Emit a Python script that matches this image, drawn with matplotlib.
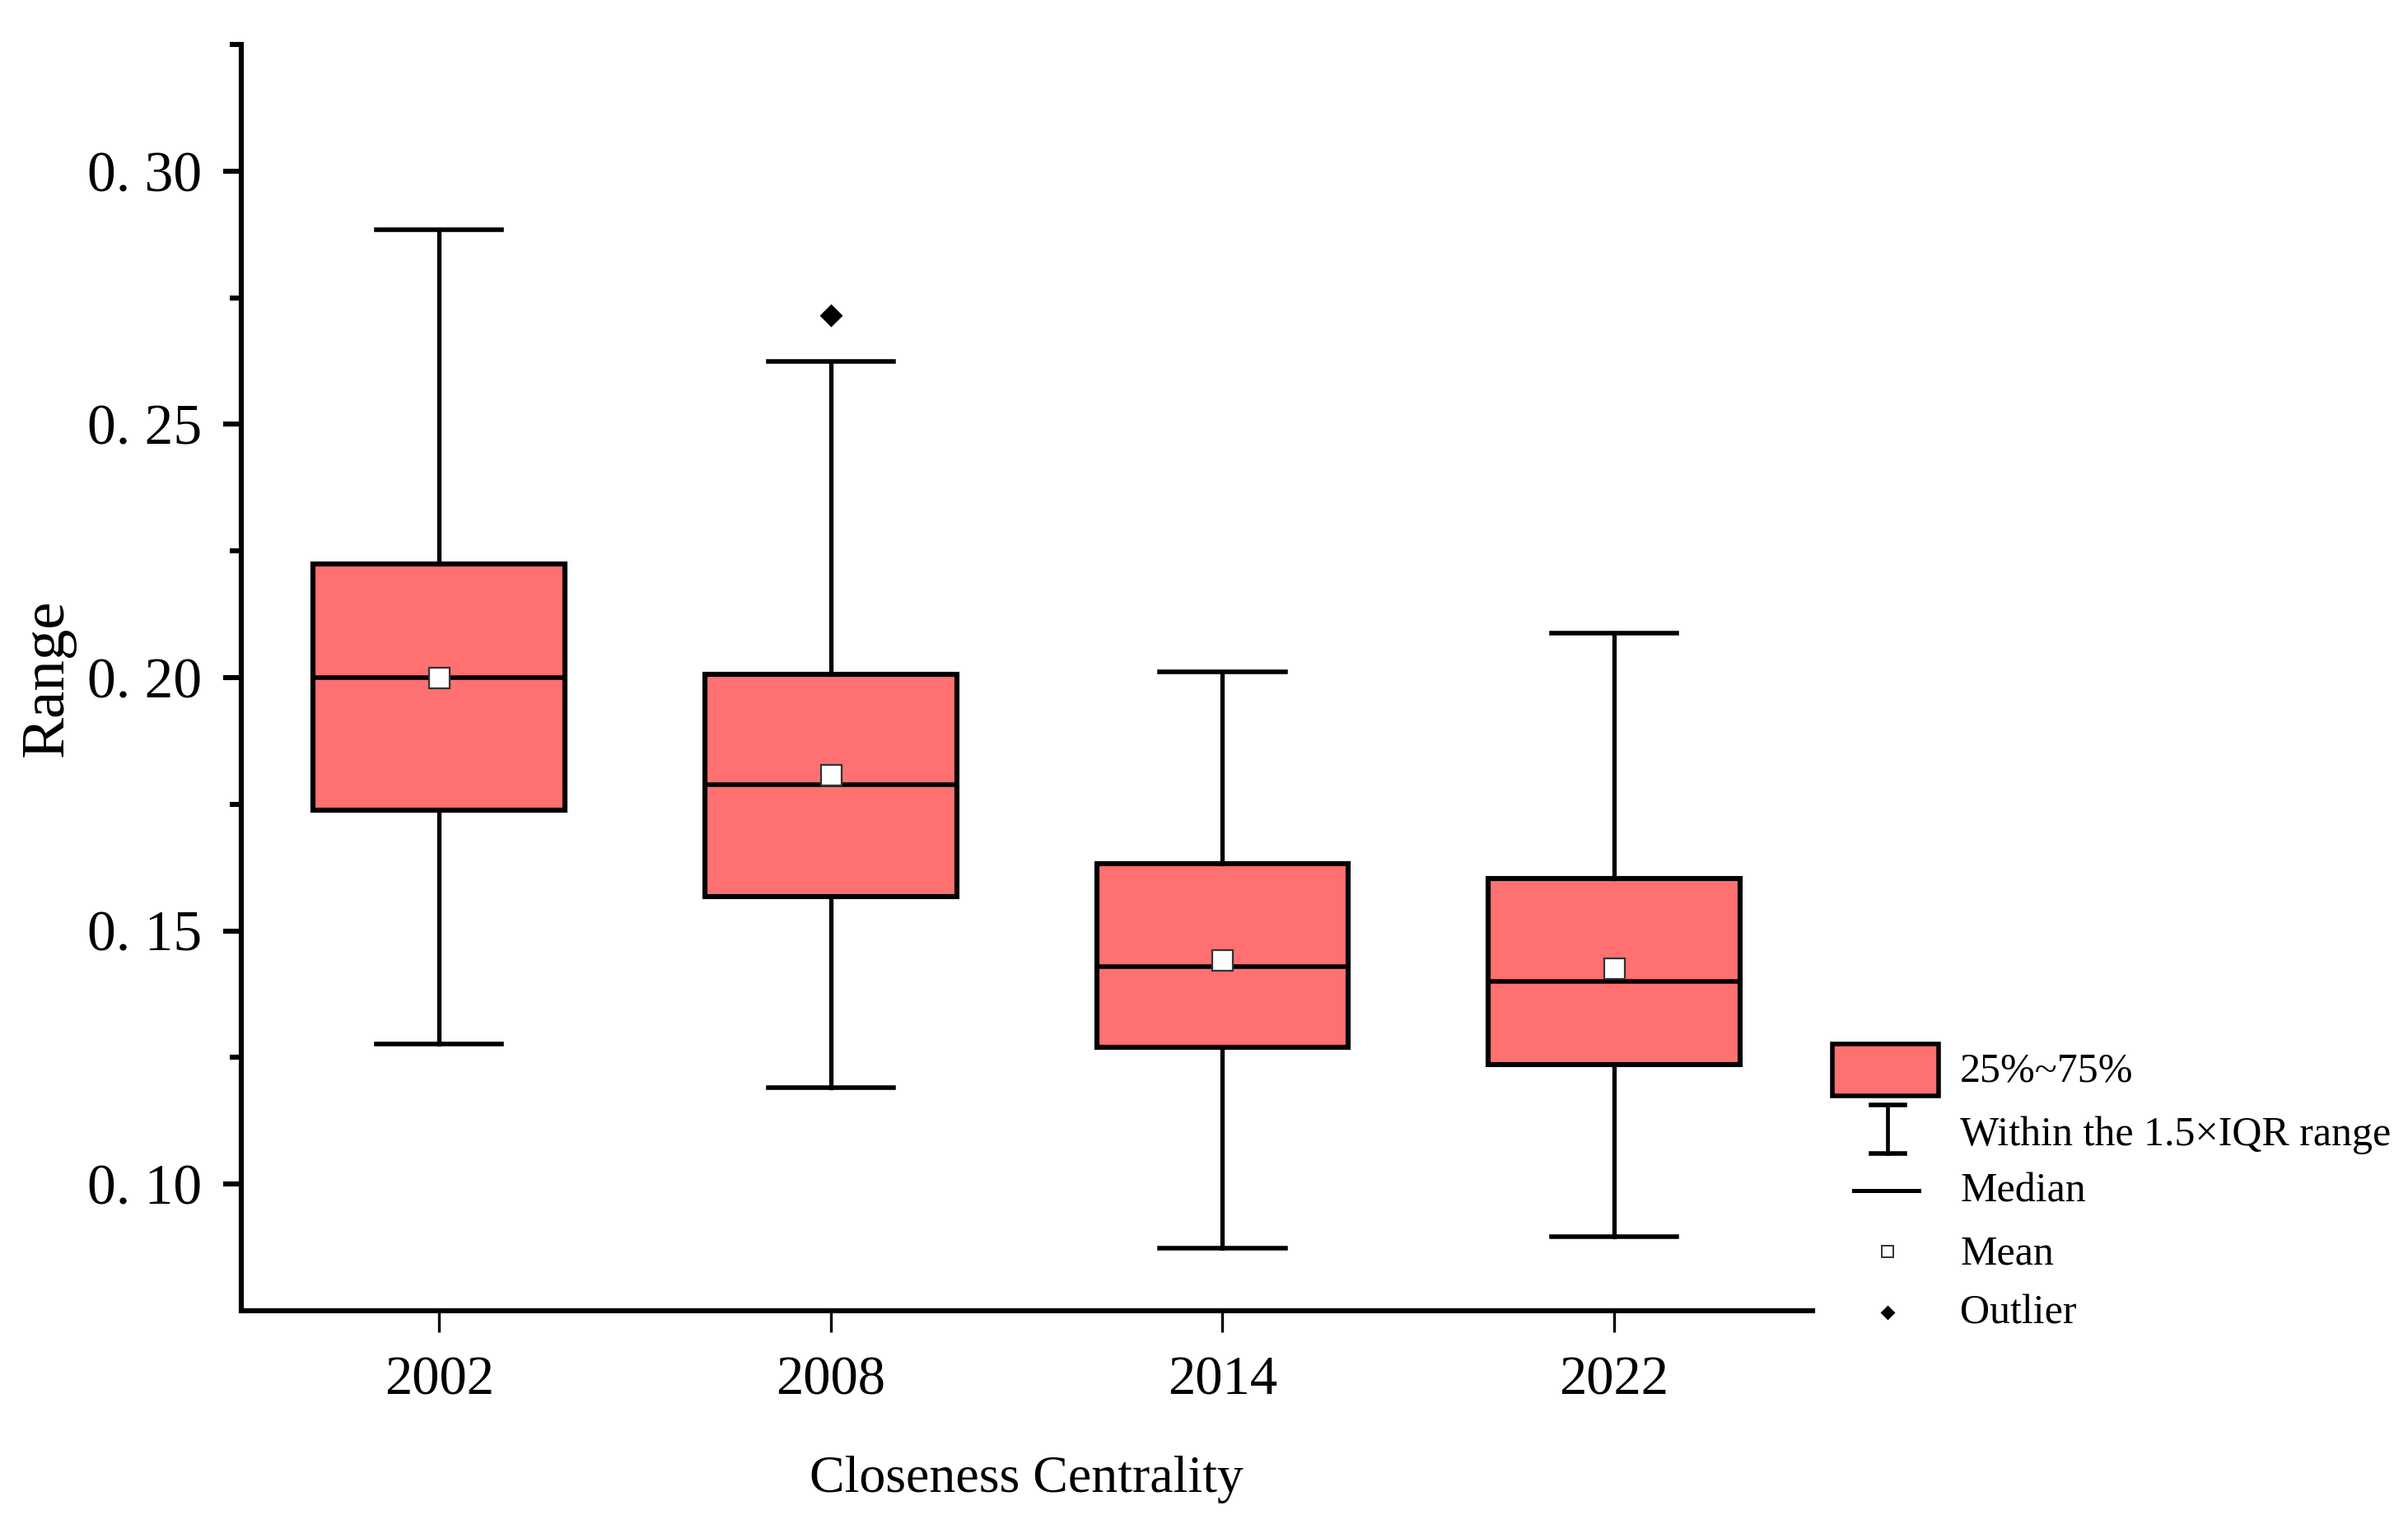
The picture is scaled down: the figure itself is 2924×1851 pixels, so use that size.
import matplotlib.pyplot as plt
from matplotlib.lines import Line2D
from matplotlib.patches import Rectangle
from matplotlib.ticker import FixedLocator, FixedFormatter

plt.rcParams['font.family'] = ['Liberation Serif', 'DejaVu Serif']

# data
years = ['2002', '2008', '2014', '2022']
whislo = [0.1276, 0.1191, 0.0873, 0.0897]
q1 = [0.1739, 0.1567, 0.1270, 0.1236]
med = [0.2000, 0.1788, 0.1430, 0.1400]
mean = [0.2000, 0.1809, 0.1442, 0.1427]
q3 = [0.2224, 0.2006, 0.1633, 0.1603]
whishi = [0.2885, 0.2624, 0.2012, 0.2088]
fliers = [[], [0.2715], [], []]

yticks = [0.10, 0.15, 0.20, 0.25, 0.30]
ytick_labels = ['0. 10', '0. 15', '0. 20', '0. 25', '0. 30']

box_color = '#FF7070'

stats = []
for i in range(len(years)):
    stats.append(dict(label=years[i], whislo=whislo[i], q1=q1[i], med=med[i],
                      mean=mean[i], q3=q3[i], whishi=whishi[i], fliers=fliers[i]))

fig = plt.figure(figsize=(14.62, 9.255), dpi=200)
ax = fig.add_axes([0.1001, 0.1399, 0.6525, 0.8309])

pos = list(range(1, len(years) + 1))
ax.bxp(stats, positions=pos, widths=0.643, patch_artist=True, showmeans=True,
       boxprops=dict(facecolor=box_color, edgecolor='black', linewidth=2.2),
       medianprops=dict(color='black', linewidth=2.0),
       whiskerprops=dict(color='black', linewidth=1.9),
       capprops=dict(color='black', linewidth=2.0),
       capwidths=0.32,
       meanprops=dict(marker='s', markerfacecolor='white', markeredgecolor='#333333',
                      markeredgewidth=0.8, markersize=9),
       flierprops=dict(marker='D', markerfacecolor='black', markeredgecolor='black',
                       markersize=6))

ax.set_xlim(0.494, 4.506)
ax.set_ylim(0.075, 0.325)

ax.spines['right'].set_color('none')
ax.spines['top'].set_color('none')
ax.spines['left'].set_linewidth(2.2)
ax.spines['bottom'].set_linewidth(2.2)

ax.yaxis.set_major_locator(FixedLocator(yticks))
ax.yaxis.set_major_formatter(FixedFormatter(ytick_labels))
ax.yaxis.set_minor_locator(FixedLocator([0.125, 0.175, 0.225, 0.275, 0.325]))
ax.tick_params(axis='y', which='major', direction='out', length=8, width=2.2,
               pad=9, labelsize=25)
ax.tick_params(axis='y', which='minor', direction='out', length=5, width=2.2)
ax.tick_params(axis='x', which='major', direction='out', length=9.5, width=1.2,
               pad=10, labelsize=24)

ax.set_xlabel('Closeness Centrality', fontsize=23, labelpad=22)
ax.set_ylabel('Range', fontsize=27, labelpad=5)

# legend drawn by hand on the right
tf = fig.transFigure
fig.add_artist(Rectangle((0.761, 0.281), 0.044, 0.034, transform=tf,
                         facecolor=box_color, edgecolor='black', linewidth=2.0))
fig.add_artist(Line2D([0.784, 0.784], [0.243, 0.275], transform=tf, color='black', lw=1.7))
fig.add_artist(Line2D([0.777, 0.791], [0.275, 0.275], transform=tf, color='black', lw=2.0))
fig.add_artist(Line2D([0.777, 0.791], [0.243, 0.243], transform=tf, color='black', lw=2.0))
fig.add_artist(Line2D([0.770, 0.797], [0.219, 0.219], transform=tf, color='black', lw=1.8))
fig.add_artist(Line2D([0.784], [0.179], transform=tf, marker='s', markersize=5,
                      markerfacecolor='white', markeredgecolor='#333333', markeredgewidth=0.7))
fig.add_artist(Line2D([0.784], [0.139], transform=tf, marker='D', markersize=3.8,
                      markerfacecolor='black', markeredgecolor='black'))

leg_labels = ['25%~75%', 'Within the 1.5×IQR range', 'Median', 'Mean', 'Outlier']
leg_y = [0.297, 0.255, 0.218, 0.177, 0.138]
for lab, yy in zip(leg_labels, leg_y):
    fig.text(0.814, yy, lab, fontsize=18, va='center', ha='left')

fig.savefig('out.png', dpi=200)
